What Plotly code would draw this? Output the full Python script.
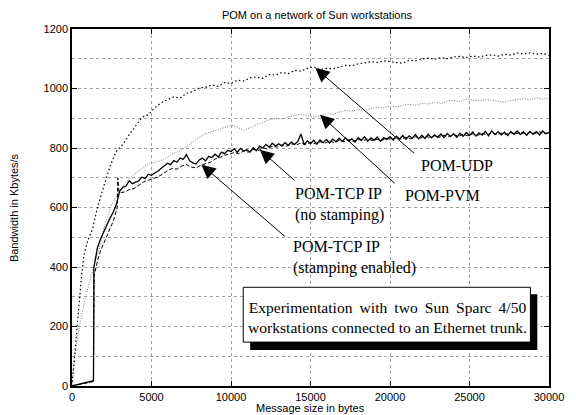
import plotly.graph_objects as go

# ---------------- data ----------------
# POM-UDP
udp_x_start = [0, 150, 300, 450, 600, 750, 1000, 1300]
udp_v_start = [0, 100, 200, 290, 370, 440, 490, 530]
udp_x_rest = list(range(1600, 30001, 400))
udp_v_rest = [600, 672, 740, 790,
              812, 845, 872, 903, 912, 935, 952, 962, 972, 968,
              984, 990, 1002, 1004, 1012, 1007, 1020, 1017, 1028, 1025,
              1036, 1039, 1034, 1047, 1045, 1054, 1050, 1061, 1058, 1068,
              1073, 1063, 1068, 1066, 1073, 1078, 1076, 1083, 1086, 1090,
              1087, 1093, 1090, 1088, 1085, 1095, 1093, 1099, 1102, 1098,
              1104, 1100, 1106, 1108, 1104, 1109, 1106, 1111, 1113, 1109,
              1115, 1112, 1119, 1116, 1120, 1115, 1118, 1112]

# POM-PVM
pvm_x_start = [0, 165, 470, 875, 1300, 1700]
pvm_v_start = [0, 101, 202, 303, 390, 459]
pvm_x_rest = list(range(2000, 30001, 400))
pvm_v_rest = [530, 598, 640, 672, 698, 715, 732, 745, 752, 758,
              770, 782, 790, 805, 822, 836, 848, 856, 861, 868,
              877, 870, 860, 868, 879, 886, 895, 899, 897, 905,
              909, 913, 909, 905, 908, 915, 912, 921, 926, 923,
              930, 926, 932, 938, 935, 941, 938, 944, 947, 943,
              950, 948, 953, 950, 957, 960, 956, 965, 961, 958,
              963, 960, 956, 954, 960, 962, 966, 961, 969, 965,
              967]

# POM-TCP IP (no stamping)
tcp_x_start = [0, 1350, 1380, 1500, 1600, 1800, 2000, 2200, 2400, 2600, 2800]
tcp_v_start = [0, 18, 400, 440, 465, 495, 520, 545, 565, 585, 612]
tcp_x_rest = list(range(3000, 30001, 200))
tcp_v_rest = [655, 668, 672, 690, 680,
              685, 690, 702, 698, 712,
              708, 716, 722, 731, 740,
              749, 744, 758, 752, 766,
              762, 778, 757, 750, 746,
              760, 766, 757, 772, 768,
              779, 770, 786, 781, 792,
              788, 797, 786, 799, 790,
              794, 786, 801, 791, 806,
              800, 812, 803, 816, 807,
              814, 806, 818, 809, 820,
              812, 822, 847, 811, 824,
              815, 826, 813, 827, 818,
              829, 817, 830, 821, 833,
              822, 834, 824, 831, 820,
              835, 826, 838, 823, 834,
              826, 837, 822, 835, 829,
              838, 827, 840, 830, 842,
              829, 841, 833, 845, 831,
              843, 832, 846, 834, 844,
              836, 847, 835, 849, 838,
              848, 836, 850, 839, 852,
              842, 854, 840, 851, 843,
              856, 841, 858, 845, 855,
              844, 853, 842, 855, 846,
              857, 845, 854, 843, 856,
              846, 855, 844, 857, 848,
              852]

# POM-TCP IP (stamping enabled)
stp_x_start = [0, 1350, 1390, 1500, 1600, 1800, 2000, 2200, 2400, 2600, 2850, 2880, 2950]
stp_v_start = [0, 15, 370, 400, 420, 455, 480, 505, 530, 555, 600, 700, 655]
stp_x_rest = list(range(3000, 30001, 300))
stp_v_rest = [650, 652, 660, 664, 675, 686, 692, 697, 703, 712,
              724, 731, 729, 739, 744, 736, 733, 742, 748, 752,
              763, 768, 776, 779, 785, 781, 790, 786, 795, 791,
              800, 797, 806, 803, 811, 806, 814, 810, 817, 812,
              819, 814, 821, 816, 824, 818, 826, 821, 828, 822,
              829, 824, 831, 825, 830, 826, 833, 828, 835, 830,
              836, 831, 838, 833, 840, 835, 841, 836, 843, 838,
              845, 839, 846, 841, 848, 842, 849, 844, 851, 845,
              850, 846, 852, 847, 853, 848, 852, 849, 854, 848,
              851]

x_ticks = [0, 5000, 10000, 15000, 20000, 25000, 30000]
y_ticks = [0, 200, 400, 600, 800, 1000, 1200]

title_text = "POM on a network of Sun workstations"
x_title = "Message size in bytes"
y_title = "Bandwidth in Kbytes/s"
box_text = ("Experimentation\u2009 with\u2009 two\u2009 Sun\u2009 Sparc\u2009 4/50<br>"
            "workstations connected to an Ethernet trunk.")

# ---------------- figure ----------------
# the page body has an 8px margin, so the figure is 8px smaller than the window
W, H = 568, 407
L, R, T, B = 64, 14, 21, 28

fig = go.Figure()

fig.add_trace(go.Scatter(x=pvm_x_start + pvm_x_rest, y=pvm_v_start + pvm_v_rest,
                         mode="lines", line=dict(color="#7a7a7a", width=1, dash="1px,1.5px"),
                         name="POM-PVM"))
fig.add_trace(go.Scatter(x=udp_x_start + udp_x_rest, y=udp_v_start + udp_v_rest,
                         mode="lines", line=dict(color="black", width=1.2, dash="1.5px,2.5px"),
                         name="POM-UDP"))
fig.add_trace(go.Scatter(x=stp_x_start + stp_x_rest, y=stp_v_start + stp_v_rest,
                         mode="lines", line=dict(color="black", width=1, dash="4px,2px"),
                         name="POM-TCP IP (stamping enabled)"))
fig.add_trace(go.Scatter(x=tcp_x_start + tcp_x_rest, y=tcp_v_start + tcp_v_rest,
                         mode="lines", line=dict(color="black", width=1.3),
                         name="POM-TCP IP (no stamping)"))

serif = dict(family="Liberation Serif", size=16, color="black")
serif_box = dict(family="Liberation Serif", size=15.6, color="black")
sans = dict(family="Liberation Sans", size=11, color="black")

# labels with arrows (tip, tail in data coords)
arrows = [
    (15306, 1069, 21612, 778),
    (15594, 912, 20388, 677),
    (11816, 794, 14082, 687),
    (8143, 744, 13469, 499),
]
for (tx, ty, ax, ay) in arrows:
    fig.add_annotation(x=tx, y=ty, ax=ax, ay=ay, xref="x", yref="y", axref="x", ayref="y",
                       text="", showarrow=True, arrowhead=2, arrowsize=2.8, arrowwidth=1,
                       arrowcolor="black")

labels = [
    ("POM-UDP", 21796, 741),
    ("POM-PVM", 20798, 640),
    ("POM-TCP IP<br>(no stamping)", 13898, 610),
    ("POM-TCP IP<br>(stamping enabled)", 13776, 432),
]
for (t, lx, ly) in labels:
    fig.add_annotation(x=lx, y=ly, xref="x", yref="y", text=t, showarrow=False,
                       xanchor="left", yanchor="middle", align="left", font=serif)

# framed note with shadow
fig.add_shape(type="rect", xref="paper", yref="paper", x0=0.3735, x1=0.9755, y0=0.1006, y1=0.257,
              fillcolor="black", line=dict(width=0), layer="above")
fig.add_shape(type="rect", xref="paper", yref="paper", x0=0.359, x1=0.961, y0=0.1229, y1=0.2765,
              fillcolor="white", line=dict(color="black", width=1), layer="above")
fig.add_annotation(x=0.661, y=0.1927, xref="paper", yref="paper", text=box_text, showarrow=False,
                   xanchor="center", yanchor="middle", align="center", font=serif_box)

# axis titles
fig.add_annotation(x=0.5, y=0, xref="paper", yref="paper", yshift=-22, text=x_title,
                   showarrow=False, xanchor="center", yanchor="middle", font=sans)
fig.add_annotation(x=-0.1224, y=0.5, xref="paper", yref="paper", text=y_title, textangle=-90,
                   showarrow=False, xanchor="center", yanchor="middle", font=sans)

grid = dict(gridcolor="#a0a0a0", griddash="dot", gridwidth=1)

fig.update_layout(
    width=W, height=H,
    margin=dict(l=L, r=R, t=T, b=B),
    paper_bgcolor="white", plot_bgcolor="white",
    showlegend=False,
    title=dict(text=title_text, x=(L + 490 / 2) / W, xanchor="center", y=1 - 7 / H, yanchor="middle",
               font=dict(family="Liberation Sans", size=11, color="black")),
    xaxis=dict(range=[0, 30000], tickvals=x_ticks, ticktext=[str(v) for v in x_ticks],
               showline=True, linecolor="black", linewidth=1.5, mirror="ticks",
               ticks="inside", ticklen=5, tickcolor="black", tickwidth=1,
               ticklabeloverflow="allow",
               showgrid=True, zeroline=False, tickfont=sans, **grid),
    yaxis=dict(range=[0, 1200], tickvals=y_ticks, ticktext=[str(v) for v in y_ticks],
               showline=True, linecolor="black", linewidth=1.5, mirror="ticks",
               ticks="inside", ticklen=5, tickcolor="black", tickwidth=1,
               showgrid=True, zeroline=False, tickfont=sans,
               minor=dict(dtick=100, showgrid=True, ticks="", **grid), **grid),
)

fig.write_html("out.html")
